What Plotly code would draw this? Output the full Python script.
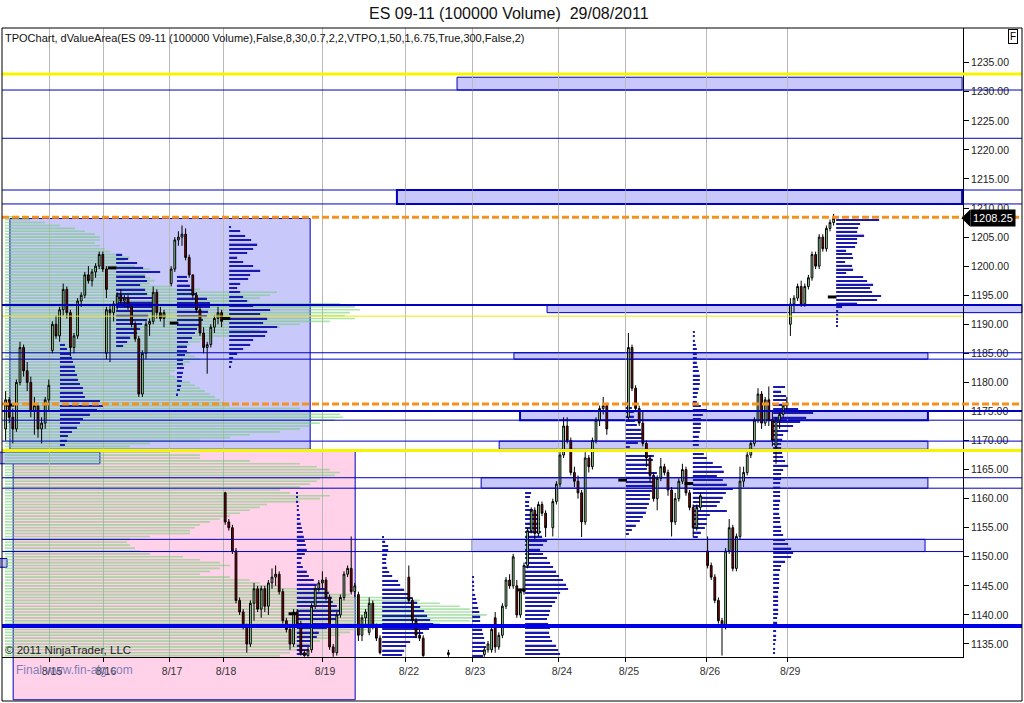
import plotly.graph_objects as go

# ---------------- text ----------------
TITLE = "ES 09-11 (100000 Volume)  29/08/2011"
INDICATOR = "TPOChart, dValueArea(ES 09-11 (100000 Volume),False,8,30,0.7,2,2,VTPO,1,50,1,6.75,True,300,False,2)"
COPYRIGHT = "\u00a9 2011 NinjaTrader, LLC"
WATERMARK = "Final www.fin-alg.com"
LAST_PRICE = 1208.25

# ---------------- axes data ----------------
price_ticks = [1135, 1140, 1145, 1150, 1155, 1160, 1165, 1170, 1175, 1180, 1185, 1190,
               1195, 1200, 1205, 1210, 1215, 1220, 1225, 1230, 1235]
date_labels = ["8/15", "8/16", "8/17", "8/18", "8/19", "8/22", "8/23", "8/24", "8/25", "8/26", "8/29"]
date_bars = [13.06, 28.06, 46.4, 61.4, 88.9, 112.2, 130.6, 154.7, 173.3, 195.8, 218.1]

# ---------------- candles (open, high, low, close) per block ----------------
session_start_bars = [1, 14, 29, 47, 62, 113, 124, 134, 153, 174, 196, 219]
ohlc_a = [(1172, 1178.5, 1170, 1177), (1177, 1177.5, 1173, 1174), (1174, 1175.5, 1169.5, 1172),
          (1172, 1180.5, 1171.5, 1180), (1180, 1187, 1179.5, 1186), (1186, 1186.5, 1181, 1182),
          (1182, 1183.5, 1178.5, 1180), (1180, 1181, 1174, 1175), (1175, 1177.5, 1171, 1176),
          (1176, 1176.5, 1170.5, 1172), (1172, 1174, 1169.5, 1173), (1173, 1177.5, 1172, 1177),
          (1177, 1180.5, 1175, 1179.5)]
ohlc_b = [(1185.5, 1190.5, 1185, 1190), (1190, 1191.5, 1187.5, 1188), (1188, 1193, 1187, 1192.5),
          (1192.5, 1197, 1191.5, 1196), (1196, 1196.5, 1191, 1192), (1192, 1192.5, 1184.5, 1186),
          (1186, 1188.5, 1185, 1188), (1188, 1194.5, 1187.5, 1194), (1194, 1195.5, 1193, 1195),
          (1195, 1199, 1194.5, 1198.5), (1198.5, 1200, 1197, 1197.5), (1197.5, 1199.5, 1196.5, 1199),
          (1199, 1200.5, 1198, 1200), (1200, 1202.5, 1199.5, 1202), (1202, 1202.5, 1199, 1199.5),
          (1199.5, 1200, 1194.5, 1196)]
ohlc_c = [(1185, 1193, 1184, 1192.5), (1192.5, 1193.5, 1183.5, 1192), (1192, 1194, 1190.5, 1193.5),
          (1193.5, 1195.5, 1192.5, 1195), (1195, 1196, 1193.5, 1194), (1194, 1195, 1193, 1194.5),
          (1194.5, 1195, 1192.5, 1193), (1193, 1193.5, 1189.5, 1190), (1190, 1190.5, 1187, 1187.5),
          (1187.5, 1188, 1177.5, 1178), (1178, 1185.5, 1177.5, 1185), (1185, 1190.5, 1184, 1190),
          (1190, 1191, 1188, 1190.5), (1190.5, 1196.5, 1190, 1195.5), (1195.5, 1196, 1191, 1192),
          (1192, 1193, 1190.5, 1191), (1191, 1192.5, 1189.5, 1192)]
ohlc_d = [(1197, 1200, 1196.5, 1199.5), (1199.5, 1205, 1199, 1204.5), (1204.5, 1206, 1203.5, 1205),
          (1205, 1207, 1203.5, 1205.5), (1205.5, 1206.5, 1201, 1201.5), (1201.5, 1202, 1198, 1198.5),
          (1198.5, 1198.5, 1194.5, 1195), (1195, 1195.5, 1192, 1192.5), (1192.5, 1193, 1188, 1188.5),
          (1188.5, 1189.5, 1185, 1186), (1186, 1187, 1181.5, 1186.5), (1186.5, 1190, 1186, 1189.5),
          (1189.5, 1191.5, 1188.5, 1191), (1191, 1193, 1190, 1192), (1192, 1192.5, 1189.5, 1190.5)]
ohlc_e = [(1161, 1161.2, 1155.5, 1156), (1156, 1156.5, 1154.5, 1155), (1155, 1155.5, 1150.5, 1151),
          (1151, 1151.5, 1142, 1142.5), (1142.5, 1143, 1140, 1140.5), (1140.5, 1141, 1137.5, 1138),
          (1138, 1138.5, 1133.5, 1135), (1135, 1142.5, 1134.5, 1142), (1142, 1145.5, 1139, 1144.5),
          (1144.5, 1145, 1140.5, 1141), (1141, 1145, 1139.5, 1144.5), (1144.5, 1145, 1140.5, 1141.5),
          (1141.5, 1146, 1140, 1145.5), (1145.5, 1148, 1144.5, 1146.5), (1146.5, 1148.5, 1145, 1147),
          (1147, 1147.5, 1143.5, 1144), (1144, 1144.5, 1138.5, 1139), (1139, 1139.5, 1137, 1137.5),
          (1137.5, 1138, 1134, 1135), (1135, 1141, 1134.5, 1140.5), (1140.5, 1141, 1138, 1138.5),
          (1138.5, 1139, 1133, 1133.5), (1133.5, 1134, 1132.8, 1133), (1133, 1134.5, 1132.8, 1134),
          (1134, 1142, 1133.5, 1141.5), (1141.5, 1145, 1141, 1144.5), (1144.5, 1146, 1144, 1145.5),
          (1145.5, 1147.5, 1144.5, 1146), (1146, 1146.5, 1142.5, 1143), (1143, 1143.5, 1134, 1134.5),
          (1134.5, 1135, 1132.8, 1133.5), (1133.5, 1140.5, 1133, 1140), (1140, 1143.5, 1139.5, 1143),
          (1143, 1147.5, 1142.5, 1147), (1147, 1148.5, 1146.5, 1148), (1148, 1153.5, 1143.5, 1144),
          (1144, 1145.5, 1143, 1145), (1143.5, 1144, 1135.5, 1136.5), (1136.5, 1140, 1135.5, 1139.5),
          (1139.5, 1141, 1138, 1140.5), (1137, 1143, 1136.5, 1142), (1142, 1142.5, 1137.5, 1138),
          (1138, 1138.5, 1135.5, 1136), (1136, 1136.5, 1133.2, 1133.5)]
ohlc_f = [(1146.5, 1148.5, 1142, 1142.5), (1142.5, 1143, 1138.5, 1139), (1139, 1139.5, 1136, 1136.5),
          (1136.5, 1137.5, 1135.5, 1136), (1136, 1136.5, 1132.8, 1133)]
ohlc_f2 = [(1133.5, 1134, 1132.8, 1133.2)]
ohlc_g = [(1133.2, 1134.5, 1132.8, 1134), (1134, 1135.5, 1133.5, 1135), (1134, 1138, 1133.5, 1137.5),
          (1139.5, 1140.5, 1133.5, 1134.5), (1134.5, 1137, 1134, 1136.5), (1136.5, 1142, 1136, 1141.5),
          (1141.5, 1146.5, 1141, 1146), (1146, 1147, 1144.5, 1145), (1145, 1150.5, 1144.5, 1150),
          (1145, 1146, 1139.5, 1140), (1140, 1144.5, 1139.5, 1144), (1144, 1149, 1143.5, 1148.5),
          (1148.5, 1155, 1148, 1154.5), (1154.5, 1158.5, 1154, 1158), (1158, 1158.5, 1153, 1154),
          (1154, 1159.5, 1153.5, 1159), (1159, 1159.5, 1157, 1157.5), (1157.5, 1158, 1153.4, 1155)]
ohlc_h = [(1155, 1160, 1153.5, 1159.5), (1159.5, 1163, 1159, 1162.5), (1162.5, 1168, 1162, 1167.5),
          (1167.5, 1174, 1167, 1172.5), (1172.5, 1174, 1169.5, 1170), (1170, 1170.5, 1164, 1164.5),
          (1164.5, 1165.5, 1162, 1163), (1163, 1164, 1160, 1161), (1161, 1161.5, 1153.4, 1156),
          (1156, 1168, 1155.5, 1167), (1167, 1167.5, 1164.5, 1165.5), (1165.5, 1170.5, 1165, 1170),
          (1170, 1174, 1169.5, 1173.5), (1173.5, 1176, 1172.5, 1175.5), (1175.5, 1177.5, 1174.5, 1176),
          (1176, 1176.5, 1171, 1172)]
ohlc_i = [(1174, 1188.5, 1173.5, 1186), (1186, 1186.5, 1178.5, 1179), (1179, 1179.5, 1175, 1175.5),
          (1175.5, 1176, 1172.5, 1173), (1173, 1175, 1169, 1169.5), (1169.5, 1170, 1165.5, 1167),
          (1167, 1167.5, 1163, 1164), (1164, 1164.5, 1159.5, 1160), (1160, 1164, 1158, 1163.5),
          (1163.5, 1167, 1163, 1165.5), (1165.5, 1166, 1164, 1164.5), (1164.5, 1165, 1160.5, 1161.5),
          (1161.5, 1162, 1153.5, 1156), (1156, 1161, 1155.5, 1160), (1160, 1163.5, 1159.5, 1163),
          (1163, 1166, 1162.5, 1165), (1165, 1165.5, 1160.5, 1161), (1161, 1161.5, 1158, 1158.5),
          (1158.5, 1159, 1153.5, 1155), (1155, 1159, 1154.5, 1158.5), (1158.5, 1161, 1158, 1160.5)]
ohlc_j = [(1151, 1153.5, 1148, 1148.5), (1148.5, 1149, 1146, 1146.5), (1146.5, 1147, 1142, 1142.5),
          (1142.5, 1143, 1138.5, 1139), (1139, 1139.5, 1133, 1138), (1138, 1151.5, 1137.5, 1151),
          (1151, 1156.5, 1150.5, 1155), (1155, 1155.5, 1147.5, 1148), (1148, 1154, 1147.5, 1153.5),
          (1153.5, 1165.5, 1153, 1163), (1163, 1165.5, 1162, 1164.5), (1164.5, 1168, 1164, 1167.5),
          (1167.5, 1170, 1167, 1169.5), (1169.5, 1174, 1169, 1173.5), (1173.5, 1179, 1173, 1178),
          (1178, 1178.5, 1172, 1173), (1173, 1177.5, 1172.5, 1177), (1177, 1179.3, 1172.5, 1173.5),
          (1173.5, 1175, 1169, 1170), (1169, 1174, 1166, 1173.5), (1173.5, 1175, 1172, 1174.5),
          (1174.5, 1176.5, 1174, 1176), (1176, 1177.5, 1175, 1176.5)]
ohlc_k = [(1190, 1194.5, 1188, 1193.5), (1193.5, 1195, 1192, 1194.5), (1194.5, 1197, 1194, 1196.5),
          (1196.5, 1197.5, 1193, 1193.5), (1193.5, 1197, 1193, 1196.5), (1196.5, 1198.5, 1196, 1198),
          (1198, 1202.5, 1197.5, 1202), (1202, 1202.5, 1199.5, 1200), (1200, 1205.5, 1199.5, 1205),
          (1205, 1205.5, 1202.5, 1203), (1203, 1207, 1202.5, 1206.5), (1206.5, 1208, 1206, 1207.5),
          (1207.5, 1209, 1207, 1208.25)]
sessions = [ohlc_a, ohlc_b, ohlc_c, ohlc_d, ohlc_e, ohlc_f, ohlc_f2, ohlc_g, ohlc_h, ohlc_i, ohlc_j, ohlc_k]

# ---------------- composite volume profile ----------------
composite_start_bar = 0.8
composite_top_price = 1208.5
composite_step = 0.5
composite_volume = [15, 25, 40, 55, 70, 80, 90, 95, 95, 90, 95, 100, 105, 115, 125, 120, 115, 130,
                    145, 135, 140, 145, 150, 145, 165, 195, 272, 265, 255, 245, 335, 350, 355, 345, 340, 350,
                    325, 295, 275, 255, 245, 225, 205, 195, 185, 180, 175, 185, 190, 195, 185, 180, 175, 170,
                    165, 170, 175, 185, 190, 195, 200, 205, 210, 215, 220, 225, 295, 315, 335, 338, 330, 315,
                    305, 295, 275, 245, 225, 195, 145, 125, 135, 165, 195, 195, 245, 295, 312, 325, 335, 330,
                    315, 312, 305, 295, 275, 285, 325, 315, 295, 262, 255, 245, 235, 225, 215, 205, 195, 190,
                    185, 185, 145, 125, 122, 125, 130, 135, 145, 178, 195, 215, 225, 215, 205, 195, 225, 245,
                    255, 275, 295, 325, 345, 395, 415, 435, 455, 465, 475, 482, 475, 465, 435, 395, 362, 345,
                    335, 325, 315, 305, 295, 295, 285, 275]

# ---------------- session TPO profiles ----------------
tpo_start_bars = [16.1, 31.7, 48.6, 63.1, 81.9, 105.6, 130.6, 145.3, 173.3, 191.9, 214.2, 231.7]
tpo_top_prices = [1186.5, 1202.0, 1198.2, 1206.75, 1161.0, 1153.4, 1146.5, 1161.0, 1176.4, 1188.7, 1179.2, 1207.9]
tpo_steps = [0.75, 0.75, 0.75, 0.75, 0.75, 0.75, 0.75, 0.75, 0.75, 0.75, 0.75, 0.65]
tpo_0815 = [5, 7, 10, 12, 13, 15, 15, 17, 18, 20, 23, 23, 25, 40, 43, 37, 30, 23, 20, 17, 12, 8, 7, 5]
tpo_0816 = [6, 12, 21, 27, 44, 29, 31, 24, 29, 31, 36, 37, 37, 36, 32, 31, 26, 24, 21, 14, 11, 7]
tpo_0817 = [10, 11, 13, 16, 20, 30, 33, 33, 31, 30, 26, 23, 20, 18, 15, 11, 10, 10, 8, 6, 6, 7, 6, 5, 5, 4, 3, 1]
tpo_0817b = [1, 11, 16, 22, 28, 24, 18, 8, 14, 24, 31, 21, 19, 11, 8, 11, 14, 18, 24, 41, 31, 38, 34, 48,
             38, 36, 24, 21, 14, 8, 4, 3, 1]
tpo_0818 = [1, 1, 1, 2, 2, 3, 3, 4, 5, 6, 7, 8, 9, 10, 8, 5, 4, 6, 10, 12, 17, 20, 28, 32, 35, 36, 40, 43,
            42, 40, 33, 30, 22, 20, 15, 13, 12, 10]
tpo_0819 = [1, 3, 6, 6, 5, 4, 4, 5, 7, 10, 16, 18, 22, 27, 30, 35, 38, 42, 45, 48, 51, 47, 41, 35, 28, 24, 22, 20]
tpo_0822 = [1, 1, 2, 2, 3, 4, 5, 6, 7, 8, 8, 9, 10, 11, 12, 13, 14, 13, 11]
tpo_0823 = [6, 5, 4, 4, 8, 14, 15, 15, 15, 16, 17, 22, 18, 15, 18, 22, 25, 28, 31, 34, 38, 41, 43, 35, 32,
            30, 27, 25, 24, 22, 23, 25, 24, 25, 27, 31, 33, 35]
tpo_0824 = [3, 6, 8, 8, 9, 11, 15, 18, 16, 12, 4, 20, 28, 27, 23, 21, 31, 30, 28, 28, 26, 24, 24, 23, 21,
            20, 17, 14, 10, 6, 3]
tpo_0825 = [2, 2, 2, 3, 4, 4, 4, 4, 5, 6, 7, 7, 7, 6, 5, 4, 4, 8, 14, 10, 8, 8, 8, 7, 6, 6, 6, 6, 11, 14,
            20, 29, 31, 24, 30, 34, 40, 33, 30, 27, 24, 34, 17, 14, 14, 12, 8, 5]
tpo_0826 = [12, 8, 13, 13, 14, 25, 40, 33, 27, 20, 15, 10, 9, 8, 8, 9, 10, 12, 15, 10, 8, 8, 7, 7, 7, 7, 7,
            6, 6, 6, 7, 7, 8, 8, 10, 12, 15, 18, 20, 18, 12, 8, 7, 6, 6, 6, 6, 5, 5, 5, 5, 5, 5, 4, 4, 4,
            3, 3, 3, 2, 2, 1]
tpo_0829 = [43, 24, 22, 21, 28, 21, 21, 19, 10, 16, 17, 9, 16, 17, 10, 27, 31, 37, 34, 36, 45, 41, 21, 6,
            2, 2, 2, 1, 1]
tpo_profiles = [tpo_0815, tpo_0816, tpo_0817, tpo_0817b, tpo_0818, tpo_0819, tpo_0822, tpo_0823,
                tpo_0824, tpo_0825, tpo_0826, tpo_0829]

# POC markers
poc_bars = [2.2, 30.6, 47.8, 62.2, 80.8, 144.2, 172.4, 190.8, 230.6]
poc_prices = [1176.1, 1199.7, 1190.2, 1191.0, 1140.2, 1144.3, 1163.2, 1162.6, 1194.7]

# ---------------- levels ----------------
blue_levels = [1230.3, 1222.0, 1213.1, 1210.7, 1185.1, 1184.0, 1173.5, 1169.9, 1163.6, 1161.8]
blue_levels_inner = [1153.0, 1150.9]
blue_levels_bold = [1193.3, 1175.1]
blue_levels_heavy = [1138.1]
yellow_levels = [1233.05, 1168.3]
yellow_thin_levels = [1191.4]
orange_levels = [1208.4, 1176.3]

# value-area boxes
va_start_bars = [126.4, 109.7, 151.4, 142.2, 143.9, 138.1, 133.1, 130.6]
va_end_bars = [266.7, 266.7, 283.3, 257.2, 257.2, 257.2, 257.2, 256.4]
va_lows = [1230.3, 1210.7, 1192.0, 1184.0, 1173.5, 1168.5, 1161.8, 1150.9]
va_highs = [1232.5, 1213.1, 1193.3, 1185.1, 1175.1, 1169.9, 1163.6, 1153.0]
# composite value-area boxes (lavender, pink, lavender, lavender)
cva_start_bars = [2.2, 3.1, -0.6, -0.6]
cva_end_bars = [85.6, 98.1, 27.2, 1.4]
cva_lows = [1168.5, 1125.4, 1166.0, 1148.2]
cva_highs = [1208.2, 1168.2, 1168.0, 1149.7]

# ---------------- layout constants ----------------
W, H = 1024, 703
ML, MR, MT, MB = 2, 61, 28, 46
PLOT_W, PLOT_H = W - ML - MR, H - MT - MB
PX_PER_BAR = 3.6
X_MAX = PLOT_W / PX_PER_BAR
Y_MIN, Y_MAX = 1132.76, 1240.97
FONT = "Liberation Sans, Arial, sans-serif"
LAV = "rgb(200,200,250)"
PINK = "rgb(255,210,234)"
BLUE = "rgb(0,0,190)"


def xp(bar):
    return bar / X_MAX


def yp(price):
    return (price - Y_MIN) / (Y_MAX - Y_MIN)


def pxx(px):
    return (px - ML) / PLOT_W


def pxy(py):
    return (H - MB - py) / PLOT_H


LINE_END = pxx(1022)
fig = go.Figure()

# profiles: composite
comp_prices = [composite_top_price - i * composite_step for i in range(len(composite_volume))]
fig.add_trace(go.Bar(orientation="h", y=comp_prices, x=[v / PX_PER_BAR for v in composite_volume],
                     base=composite_start_bar, width=0.28,
                     marker=dict(color="rgba(105,205,105,0.55)", line=dict(width=0)),
                     hoverinfo="skip"))
# session TPO profiles
for start, top, step, prof in zip(tpo_start_bars, tpo_top_prices, tpo_steps, tpo_profiles):
    ys = [top - i * step for i in range(len(prof))]
    fig.add_trace(go.Bar(orientation="h", y=ys, x=[v / PX_PER_BAR for v in prof], base=start,
                         width=0.24, marker=dict(color="rgb(25,25,175)", line=dict(width=0)),
                         hoverinfo="skip"))

# candles
cx, co, ch, cl, cc = [], [], [], [], []
for start, sess in zip(session_start_bars, sessions):
    for i, (o, h, l, c) in enumerate(sess):
        cx.append(start + i)
        co.append(o)
        ch.append(h)
        cl.append(l)
        cc.append(c)
fig.add_trace(go.Candlestick(x=cx, open=co, high=ch, low=cl, close=cc, whiskerwidth=0,
                             increasing=dict(fillcolor="rgb(160,235,160)", line=dict(color="black", width=1)),
                             decreasing=dict(fillcolor="rgb(140,0,0)", line=dict(color="black", width=1)),
                             hoverinfo="skip"))

# POC markers
px_, py_ = [], []
for b, p in zip(poc_bars, poc_prices):
    px_ += [b - 1.2, b + 1.2, None]
    py_ += [p, p, None]
fig.add_trace(go.Scatter(x=px_, y=py_, mode="lines", line=dict(color="black", width=3), hoverinfo="skip"))

shapes = []
# composite value areas
for i, (s, e, lo, hi) in enumerate(zip(cva_start_bars, cva_end_bars, cva_lows, cva_highs)):
    shapes.append(dict(type="rect", xref="paper", yref="paper", x0=xp(s), x1=xp(e), y0=yp(lo), y1=yp(hi),
                       fillcolor=PINK if i == 1 else LAV, line=dict(color=BLUE, width=1), layer="below"))
# session value areas
for i, (s, e, lo, hi) in enumerate(zip(va_start_bars, va_end_bars, va_lows, va_highs)):
    shapes.append(dict(type="rect", xref="paper", yref="paper", x0=xp(s), x1=xp(e), y0=yp(lo), y1=yp(hi),
                       fillcolor=LAV, line=dict(color=BLUE, width=2 if i in (1, 4) else 1), layer="below"))


def hline(p, color, width, end=LINE_END, dash=None):
    ln = dict(color=color, width=width)
    if dash:
        ln["dash"] = dash
    shapes.append(dict(type="line", xref="paper", yref="paper", x0=0, x1=end, y0=yp(p), y1=yp(p),
                       line=ln, layer="above"))


for p in blue_levels:
    hline(p, BLUE, 1)
for p in blue_levels_inner:
    hline(p, BLUE, 1, end=1.0)
for p in blue_levels_bold:
    hline(p, BLUE, 2)
for p in blue_levels_heavy:
    hline(p, "rgb(0,0,230)", 4)
for p in yellow_levels:
    hline(p, "rgb(245,245,0)", 3)
for p in yellow_thin_levels:
    hline(p, "rgb(235,235,0)", 1, end=1.0)
for p in orange_levels:
    hline(p, "rgb(245,145,30)", 3, dash="7px,3px")

# outer frame
shapes.append(dict(type="rect", xref="paper", yref="paper", x0=0, x1=pxx(1022), y0=pxy(701), y1=1,
                   line=dict(color="black", width=1), fillcolor="rgba(0,0,0,0)", layer="above"))
# last price tag notch
ty = yp(LAST_PRICE)
dy = 8 / PLOT_H
shapes.append(dict(type="path", xref="paper", yref="paper",
                   path=f"M {pxx(962)},{ty} L {pxx(970)},{ty + dy} L {pxx(970)},{ty - dy} Z",
                   fillcolor="black", line=dict(color="black", width=1), layer="above"))

annotations = [
    dict(text=TITLE, xref="paper", yref="paper", x=pxx(509), y=pxy(13), showarrow=False,
         font=dict(family=FONT, size=16, color="#111"), xanchor="center", yanchor="middle"),
    dict(text=INDICATOR, xref="paper", yref="paper", x=pxx(3), y=pxy(38), showarrow=False,
         font=dict(family=FONT, size=11, color="#111"), xanchor="left", yanchor="middle"),
    dict(text=COPYRIGHT, xref="paper", yref="paper", x=pxx(3), y=pxy(650), showarrow=False,
         font=dict(family=FONT, size=11.5, color="#222"), xanchor="left", yanchor="middle"),
    dict(text=WATERMARK, xref="paper", yref="paper", x=pxx(14), y=pxy(670), showarrow=False,
         font=dict(family=FONT, size=12, color="rgba(100,110,175,0.85)"), xanchor="left", yanchor="middle"),
    dict(text=f"{LAST_PRICE:.2f}", xref="paper", yref="paper", x=pxx(970), y=ty, showarrow=False,
         font=dict(family=FONT, size=11, color="white"), bgcolor="black", xanchor="left", yanchor="middle",
         borderpad=2),
    dict(text="F", xref="paper", yref="paper", x=pxx(1013), y=pxy(36), showarrow=False,
         font=dict(family=FONT, size=10, color="black"), bgcolor="white", bordercolor="black",
         borderwidth=1, borderpad=1, xanchor="center", yanchor="middle"),
]

fig.update_layout(
    width=W, height=H, margin=dict(l=ML, r=MR, t=MT, b=MB),
    paper_bgcolor="white", plot_bgcolor="white", showlegend=False, barmode="overlay",
    hovermode=False, shapes=shapes, annotations=annotations,
    xaxis=dict(range=[0, X_MAX], tickvals=date_bars, ticktext=date_labels, ticks="outside", ticklen=4,
               tickcolor="black", showgrid=True, gridcolor="rgb(185,185,185)", gridwidth=1,
               showline=True, linecolor="black", linewidth=1, zeroline=False, ticklabelshift=3,
               tickfont=dict(family=FONT, size=10.5, color="#333"), rangeslider=dict(visible=False),
               fixedrange=True),
    yaxis=dict(range=[Y_MIN, Y_MAX], side="right", tickvals=price_ticks,
               ticktext=[f"{v:.2f}" for v in price_ticks], ticks="outside", ticklen=5, tickcolor="black",
               showgrid=False, showline=True, linecolor="black", linewidth=1, zeroline=False,
               tickfont=dict(family=FONT, size=10.5, color="#222"), fixedrange=True),
)

fig.write_html("out.html", config={"displayModeBar": False},
               post_script="document.body.style.margin='0px';document.body.style.overflow='hidden';")
